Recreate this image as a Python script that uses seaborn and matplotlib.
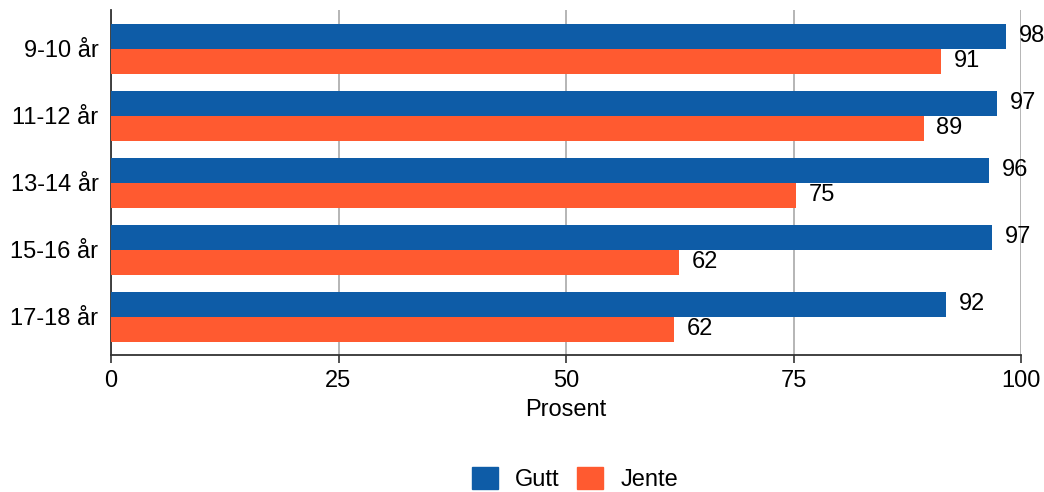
import matplotlib.pyplot as plt
import seaborn as sns
import pandas as pd

# data
alder = ['9-10 år', '11-12 år', '13-14 år', '15-16 år', '17-18 år']
gutt = [98.4, 97.4, 96.5, 96.8, 91.8]
jente = [91.2, 89.3, 75.3, 62.4, 61.9]
gruppe = ['Gutt', 'Jente']
farger = ['#0e5ca7', '#ff5a30']

sns.set_style('white')
plt.rcParams['font.family'] = ['Liberation Sans', 'DejaVu Sans']
plt.rcParams['text.color'] = 'black'
plt.rcParams['xtick.color'] = 'black'
plt.rcParams['ytick.color'] = 'black'
plt.rcParams['axes.labelcolor'] = 'black'

df = pd.DataFrame({
	'alder': alder * 2,
	'verdi': gutt + jente,
	'kjonn': ['Gutt'] * len(alder) + ['Jente'] * len(alder),
})

fig = plt.figure(figsize=(10.44, 4.92), dpi=100)
ax = fig.add_axes([111 / 1044, 1 - 355 / 492, 910 / 1044, 345 / 492])

sns.barplot(data=df, y='alder', x='verdi', hue='kjonn', hue_order=gruppe,
			palette=farger, orient='h', width=0.75, saturation=1,
			edgecolor='none', linewidth=0, ax=ax, zorder=3)

# labels rounded like in the source
for cont in ax.containers:
	ax.bar_label(cont, labels=['{:.0f}'.format(v) for v in cont.datavalues],
				 padding=9, fontsize=17, color='black')

ax.set_xlim(0, 100)
ax.set_ylim(4.57, -0.58)
ax.set_xticks([0, 25, 50, 75, 100])
ax.grid(axis='x', color='#b5b5b5', linewidth=1.4, zorder=0)
ax.grid(axis='y', visible=False)
ax.tick_params(axis='x', labelsize=17, length=6, width=1.2, color='#333333', bottom=True, pad=5)
ax.tick_params(axis='y', labelsize=17, length=0, pad=9)
for side in ['top', 'right']:
	ax.spines[side].set_visible(False)
for side in ['left', 'bottom']:
	ax.spines[side].set_color('#333333')
	ax.spines[side].set_linewidth(1.3)
ax.set_ylabel('')
ax.set_xlabel('Prosent', fontsize=17, labelpad=5)

ax.legend_.remove()
handles = [plt.Rectangle((0, 0), 1, 1, color=c) for c in farger]
fig.legend(handles, gruppe, loc='center', bbox_to_anchor=(575 / 1044, 1 - 479 / 492),
		   ncol=2, frameon=False, fontsize=17, handlelength=1.1, handleheight=1.1,
		   handletextpad=0.72, columnspacing=0.76)

fig.savefig('out.png', dpi=100)
